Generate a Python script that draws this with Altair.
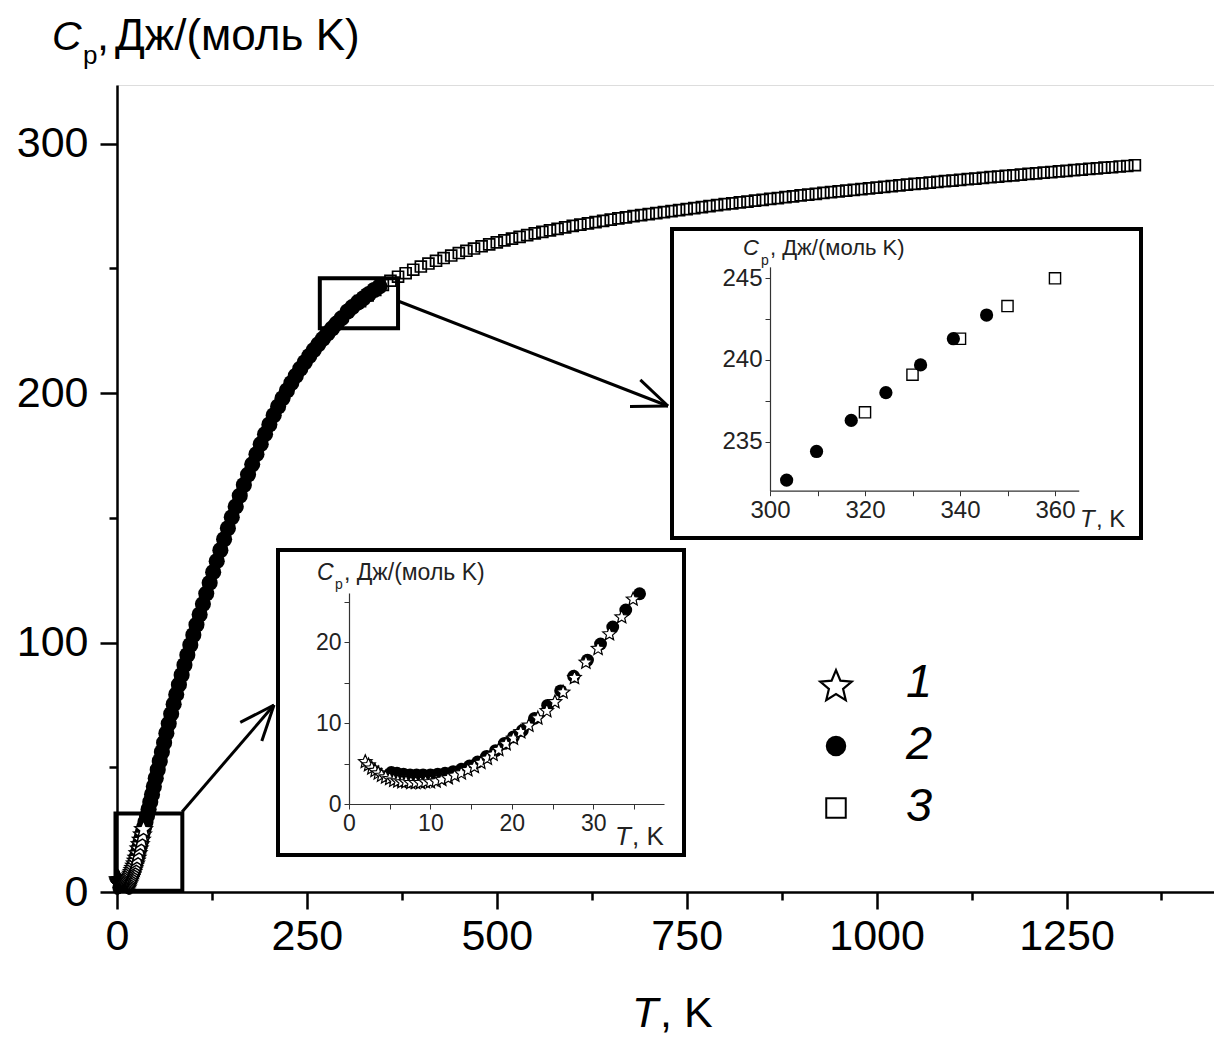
import math
import altair as alt
import pandas as pd

# ---------------- data ----------------
STAR_T = [2.0, 2.4, 2.8, 3.2, 3.6, 4.0, 4.5, 5.0, 5.5, 6.0, 6.5, 7.0, 7.6, 8.2, 8.8, 9.4,
          10.0, 10.7, 11.4, 12.2, 13.0, 13.8, 14.6, 15.4, 16.2, 17.0, 17.7, 18.4, 19.3,
          20.2, 21.1, 22.1, 23.2, 24.3, 25.3, 26.3, 27.7, 29.1, 30.6, 32.0, 33.5, 34.9]
STAR_CP = [5.3, 4.9, 4.5, 4.2, 3.9, 3.6, 3.4, 3.2, 3.0, 2.9, 2.8, 2.8, 2.7, 2.7, 2.7, 2.8,
           2.8, 2.9, 3.1, 3.3, 3.6, 3.9, 4.3, 4.7, 5.2, 5.7, 6.2, 6.8, 7.5,
           8.2, 9.0, 9.8, 10.7, 11.6, 12.7, 13.9, 15.7, 17.6, 19.3, 21.1, 23.2, 25.4]

CIRC_T = [5.2, 5.9, 6.7, 7.5, 8.3, 9.1, 10.0, 10.9, 11.8, 12.8, 13.8, 14.8, 15.8, 16.9,
          18.0, 19.1, 20.2, 21.3, 22.8, 24.4, 26.0, 27.6, 29.3, 30.9, 32.4, 34.0, 35.7,
          37.5, 39.5, 41.6, 43.8, 46.1, 48.5, 51.0, 53.6, 56.3, 59.1, 62.0, 65.0, 68.1,
          71.3, 74.6, 78.0, 81.5, 85.1, 88.8, 92.6, 96.5, 100.5, 104.6, 108.8, 113.1,
          117.5, 122.0, 126.6, 131.3, 136.1, 141.0, 146.0, 151.1, 156.3, 161.6, 167.0,
          172.5, 178.0, 183.6, 189.2, 194.9, 200.6, 206.3, 212.1, 217.9, 223.7, 229.5,
          235.4, 241.3, 247.2, 253.1, 259.0, 265.0, 271.0, 277.0, 283.0, 289.0, 295.5,
          303.5, 309.8, 317.1, 324.4, 331.7, 338.6, 345.6]
CIRC_CP = [3.9, 3.8, 3.7, 3.6, 3.6, 3.6, 3.6, 3.7, 3.8, 4.0, 4.3, 4.7, 5.2, 5.9,
           6.6, 7.5, 8.3, 9.1, 10.6, 12.2, 14.0, 15.8, 17.8, 19.8, 21.9, 24.0, 26.0,
           28.1, 30.5, 33.2, 36.1, 39.1, 42.3, 45.6, 49.0, 52.5, 56.1, 59.8, 63.6, 67.5,
           71.4, 75.3, 79.2, 83.1, 87.0, 91.0, 95.0, 99.0, 103.0, 107.1, 111.2, 115.4,
           119.6, 123.9, 128.2, 132.6, 137.0, 141.4, 145.8, 150.2, 154.5, 158.8, 163.1,
           167.3, 171.4, 175.5, 179.5, 183.5, 187.4, 191.1, 194.6, 197.9, 201.0, 204.0,
           206.9, 209.7, 212.3, 214.8, 217.2, 219.5, 221.7, 223.8, 225.8, 227.8, 229.9,
           232.65, 234.4, 236.3, 238.0, 239.7, 241.3, 242.75]

SQ_T = [320, 330, 340, 350, 360, 370, 380, 390, 400, 410, 420, 430, 440, 450, 460, 470,
        480, 490, 500, 510, 520, 530, 540, 550, 560, 570, 580, 590, 600, 610, 620, 630,
        640, 650, 660, 670, 680, 690, 700, 710, 720, 730, 740, 750, 760, 770, 780, 790,
        800, 810, 820, 830, 840, 850, 860, 870, 880, 890, 900, 910, 920, 930, 940, 950,
        960, 970, 980, 990, 1000, 1010, 1020, 1030, 1040, 1050, 1060, 1070, 1080, 1090,
        1100, 1110, 1120, 1130, 1140, 1150, 1160, 1170, 1180, 1190, 1200, 1210, 1220,
        1230, 1240, 1250, 1260, 1270, 1280, 1290, 1300, 1310, 1320, 1330, 1340]
SQ_CP = [236.8, 239.1, 241.3, 243.3, 245.0, 246.6, 248.0, 249.4, 250.7, 251.9, 253.0,
         254.1, 255.1, 256.1, 257.0, 257.9, 258.8, 259.6, 260.4, 261.2, 261.9, 262.6,
         263.3, 264.0, 264.6, 265.2, 265.8, 266.4, 267.0, 267.5, 268.0, 268.5, 269.0,
         269.5, 270.0, 270.4, 270.9, 271.3, 271.7, 272.1, 272.5, 272.9, 273.3, 273.7,
         274.1, 274.5, 274.9, 275.3, 275.7, 276.0, 276.4, 276.7, 277.1, 277.4, 277.8,
         278.1, 278.5, 278.8, 279.2, 279.5, 279.8, 280.2, 280.5, 280.8, 281.1, 281.4,
         281.7, 282.0, 282.3, 282.6, 282.9, 283.2, 283.5, 283.8, 284.0, 284.3, 284.6,
         284.9, 285.1, 285.4, 285.7, 285.9, 286.2, 286.5, 286.7, 287.0, 287.2, 287.5,
         287.8, 288.0, 288.3, 288.5, 288.8, 289.0, 289.3, 289.5, 289.8, 290.0, 290.3,
         290.5, 290.8, 291.0, 291.3]

X_TICKS = [0, 125, 250, 375, 500, 625, 750, 875, 1000, 1125, 1250, 1375]
Y_TICKS = [0, 50, 100, 150, 200, 250, 300]
IN1_X_TICKS = [300, 310, 320, 330, 340, 350, 360]
IN1_Y_TICKS = [235, 237.5, 240, 242.5, 245]
IN2_X_TICKS = [0, 5, 10, 15, 20, 25, 30, 35]
IN2_Y_TICKS = [0, 5, 10, 15, 20, 25]
LEGEND_LABELS = ["1", "2", "3"]
# zoom windows marked on the main plot
ZOOM_BOXES = {"T": [-2, 267], "T2": [86, 370], "Cp": [0.5, 226], "Cp2": [31.5, 246]}

assert len(STAR_T) == len(STAR_CP)
assert len(CIRC_T) == len(CIRC_CP)
assert len(SQ_T) == len(SQ_CP)

# five-pointed star symbol (Vega has no built-in star), unit box [-1, 1]
_pts = []
for i in range(10):
    r = 1.0 if i % 2 == 0 else 0.45
    a = math.radians(-90 + 36 * i)
    _pts.append(f"{r * math.cos(a):.3f},{r * math.sin(a) + 0.1:.3f}")
STAR = "M" + "L".join(_pts) + "Z"

# ---------------- layout ----------------
FONT = "Liberation Sans"
PAD_L, PAD_T = 117, 85
W, H = 1214 - PAD_L, 892 - PAD_T
X_PX, Y_PX = 0.7596, 2.495


def px(x):
    return x - PAD_L


def py(y):
    return y - PAD_T


one = pd.DataFrame({"k": [0]})
stars = pd.DataFrame({"T": STAR_T, "Cp": STAR_CP})
circs = pd.DataFrame({"T": CIRC_T, "Cp": CIRC_CP})
squares = pd.DataFrame({"T": SQ_T, "Cp": SQ_CP})
boxes = pd.DataFrame(ZOOM_BOXES)

# ---------------- main panel ----------------
main_x_axis = alt.Axis(
    orient="bottom", values=X_TICKS, format="d", title=None, grid=False,
    labelExpr="datum.value % 250 === 0 ? datum.label : ''",
    tickSize={"condition": {"test": "datum.value % 250 === 0", "value": 17}, "value": 8},
    tickWidth=2.5, domainWidth=2.5, domainColor="black", tickColor="black",
    labelFont=FONT, labelFontSize=43, labelColor="black", labelPadding=6,
    labelFlush=False, labelOverlap=False,
)
main_y_axis = alt.Axis(
    orient="left", values=Y_TICKS, format="d", title=None, grid=False,
    labelExpr="datum.value % 100 === 0 ? datum.label : ''",
    tickSize={"condition": {"test": "datum.value % 100 === 0", "value": 17}, "value": 8},
    tickWidth=2.5, domainWidth=2.5, domainColor="black", tickColor="black",
    labelFont=FONT, labelFontSize=43, labelColor="black", labelPadding=12,
    labelFlush=False, labelOverlap=False,
)
mx = alt.X("T:Q", scale=alt.Scale(domain=[0, W / X_PX], nice=False, zero=False), axis=main_x_axis)
my = alt.Y("Cp:Q", scale=alt.Scale(domain=[0, H / Y_PX], nice=False, zero=False), axis=main_y_axis)

main_c = alt.Chart(circs).mark_point(shape="circle", filled=True, size=260, color="black",
                                     opacity=1).encode(x=mx, y=my)
main_s = alt.Chart(squares).mark_point(shape="square", filled=False, size=120, color="black",
                                       strokeWidth=1.7, opacity=1).encode(x=mx, y=my)
main_st = alt.Chart(stars).mark_point(shape=STAR, filled=True, fill="white", stroke="black",
                                      strokeWidth=1.5, size=330, opacity=1).encode(x=mx, y=my)
main_b = alt.Chart(boxes).mark_rect(fillOpacity=0, stroke="black", strokeWidth=4).encode(
    x=mx, x2="T2:Q", y=my, y2="Cp2:Q")
main = alt.layer(main_c, main_s, main_st, main_b)

# ---------------- inset boxes ----------------
def frame(x0, x1, y0, y1):
    return alt.Chart(one).mark_rect(fill="white", stroke="black", strokeWidth=4).encode(
        x=alt.value(px(x0)), x2=alt.value(px(x1)), y=alt.value(py(y0)), y2=alt.value(py(y1)))


frame1 = frame(672, 1141, 229, 538)
frame2 = frame(278, 684, 550, 855)


def inset_axis(orient, offset, values, expr, fs):
    return alt.Axis(
        orient=orient, offset=offset, values=values, title=None, grid=False, zindex=1,
        labelExpr=expr, tickSize=5, tickWidth=1, domainWidth=1.2,
        domainColor="#333", tickColor="#333", labelFont=FONT, labelFontSize=fs,
        labelColor="#222", labelPadding=3, labelFlush=False, labelOverlap=False,
    )


# ---------------- inset 1 (300-365 K) ----------------
I1_X0, I1_Y0 = 770, 490.7
i1x = alt.X("T:Q", scale=alt.Scale(domain=[300, 365], range=[px(I1_X0), px(I1_X0) + 65 * 4.75],
                                   nice=False, zero=False),
            axis=inset_axis("bottom", py(I1_Y0) - H, IN1_X_TICKS,
                            "datum.value % 20 === 0 ? datum.label : ''", 24))
i1y = alt.Y("Cp:Q", scale=alt.Scale(domain=[232, 245.7],
                                    range=[py(I1_Y0), py(I1_Y0) - 13.7 * 16.34],
                                    nice=False, zero=False),
            axis=inset_axis("left", -px(I1_X0), IN1_Y_TICKS,
                            "datum.value % 5 === 0 ? datum.label : ''", 24))
in1_c = alt.Chart(circs).transform_filter("datum.T >= 300").mark_point(
    shape="circle", filled=True, size=175, color="black", opacity=1).encode(x=i1x, y=i1y)
in1_s = alt.Chart(squares).transform_filter("datum.T <= 362").mark_point(
    shape="square", filled=False, size=125, color="black", strokeWidth=1.4, opacity=1).encode(x=i1x, y=i1y)
inset1 = alt.layer(in1_c, in1_s)

# ---------------- inset 2 (0-38 K) ----------------
I2_X0, I2_Y0 = 349, 804
i2x = alt.X("T:Q", scale=alt.Scale(domain=[0, 38.7], range=[px(I2_X0), px(I2_X0) + 38.7 * 8.14],
                                   nice=False, zero=False),
            axis=inset_axis("bottom", py(I2_Y0) - H, IN2_X_TICKS,
                            "datum.value % 10 === 0 ? datum.label : ''", 23))
i2y = alt.Y("Cp:Q", scale=alt.Scale(domain=[0, 26.1], range=[py(I2_Y0), py(I2_Y0) - 26.1 * 8.085],
                                    nice=False, zero=False),
            axis=inset_axis("left", -px(I2_X0), IN2_Y_TICKS,
                            "datum.value % 10 === 0 ? datum.label : ''", 23))
in2_c = alt.Chart(circs).transform_filter("datum.T <= 37").mark_point(
    shape="circle", filled=True, size=165, color="black", opacity=1).encode(x=i2x, y=i2y)
in2_st = alt.Chart(stars).mark_point(shape=STAR, filled=True, fill="white", stroke="black",
                                     strokeWidth=1.2, size=200, opacity=1).encode(x=i2x, y=i2y)
inset2 = alt.layer(in2_c, in2_st)

# ---------------- arrows ----------------
def rule(x0, y0, x1, y1, w=3):
    return alt.Chart(one).mark_rule(color="black", strokeWidth=w).encode(
        x=alt.value(px(x0)), x2=alt.value(px(x1)), y=alt.value(py(y0)), y2=alt.value(py(y1)))


def arrow(x0, y0, x1, y1, head=38, ang=22):
    a = math.atan2(y0 - y1, x0 - x1)
    parts = [rule(x0, y0, x1, y1)]
    for s in (-1, 1):
        b = a + s * math.radians(ang)
        parts.append(rule(x1, y1, x1 + head * math.cos(b), y1 + head * math.sin(b)))
    return parts


arrows = arrow(182, 812, 274, 705) + arrow(398, 301, 668, 406)

# ---------------- legend ----------------
def sym(shape, x, y, size, filled, sw):
    m = dict(shape=shape, size=size, opacity=1, strokeWidth=sw)
    if shape == STAR:
        mk = alt.Chart(one).mark_point(filled=True, fill="white", stroke="black", **m)
    elif filled:
        mk = alt.Chart(one).mark_point(filled=True, color="black", **m)
    else:
        mk = alt.Chart(one).mark_point(filled=False, color="black", **m)
    return mk.encode(x=alt.value(px(x)), y=alt.value(py(y)))


def txt(s, x, y, size, italic=False, align="left", baseline="alphabetic", color="black"):
    kw = dict(text=s, font=FONT, fontSize=size, align=align, baseline=baseline, color=color)
    if italic:
        kw["fontStyle"] = "italic"
    return alt.Chart(one).mark_text(**kw).encode(x=alt.value(px(x)), y=alt.value(py(y)))


legend = [
    sym(STAR, 836, 685, 1100, False, 2.2),
    sym("circle", 836, 746, 420, True, 1),
    sym("square", 836, 808, 380, False, 2),
    txt(LEGEND_LABELS[0], 919, 683, 47, italic=True, align="center", baseline="middle"),
    txt(LEGEND_LABELS[1], 919, 745, 47, italic=True, align="center", baseline="middle"),
    txt(LEGEND_LABELS[2], 919, 807, 47, italic=True, align="center", baseline="middle"),
]

# ---------------- titles ----------------
titles = [
    # main y title
    txt("C", 52, 50, 41, italic=True),
    txt("p", 83, 64, 26),
    txt(",", 97, 50, 43),
    txt("Дж/(моль K)", 115, 50, 44),
    # main x title
    txt("T", 632, 1027, 43, italic=True),
    txt(", K", 660, 1027, 43),
    # inset 1 titles
    txt("C", 743, 255, 22, italic=True, color="#222"),
    txt("p", 761, 265, 14, color="#222"),
    txt(", Дж/(моль K)", 770, 255, 22, color="#222"),
    txt("T", 1080, 527, 24, italic=True, color="#222"),
    txt(", K", 1096, 527, 24, color="#222"),
    # inset 2 titles
    txt("C", 317, 580, 23, italic=True, color="#222"),
    txt("p", 335, 589, 14, color="#222"),
    txt(", Дж/(моль K)", 344, 580, 23, color="#222"),
    txt("T", 615, 845, 26, italic=True, color="#222"),
    txt(", K", 632, 845, 26, color="#222"),
]

chart = alt.layer(
    main, frame1, frame2, inset1, inset2, *arrows, *legend, *titles
).resolve_scale(x="independent", y="independent").properties(
    width=W, height=H,
    padding={"left": PAD_L, "top": PAD_T, "right": 0, "bottom": 1037 - PAD_T - H},
    autosize=alt.AutoSizeParams(type="none"),
).configure_view(stroke=None).configure(background="white")

chart.save("out.html", embed_options={"renderer": "svg", "actions": False})
